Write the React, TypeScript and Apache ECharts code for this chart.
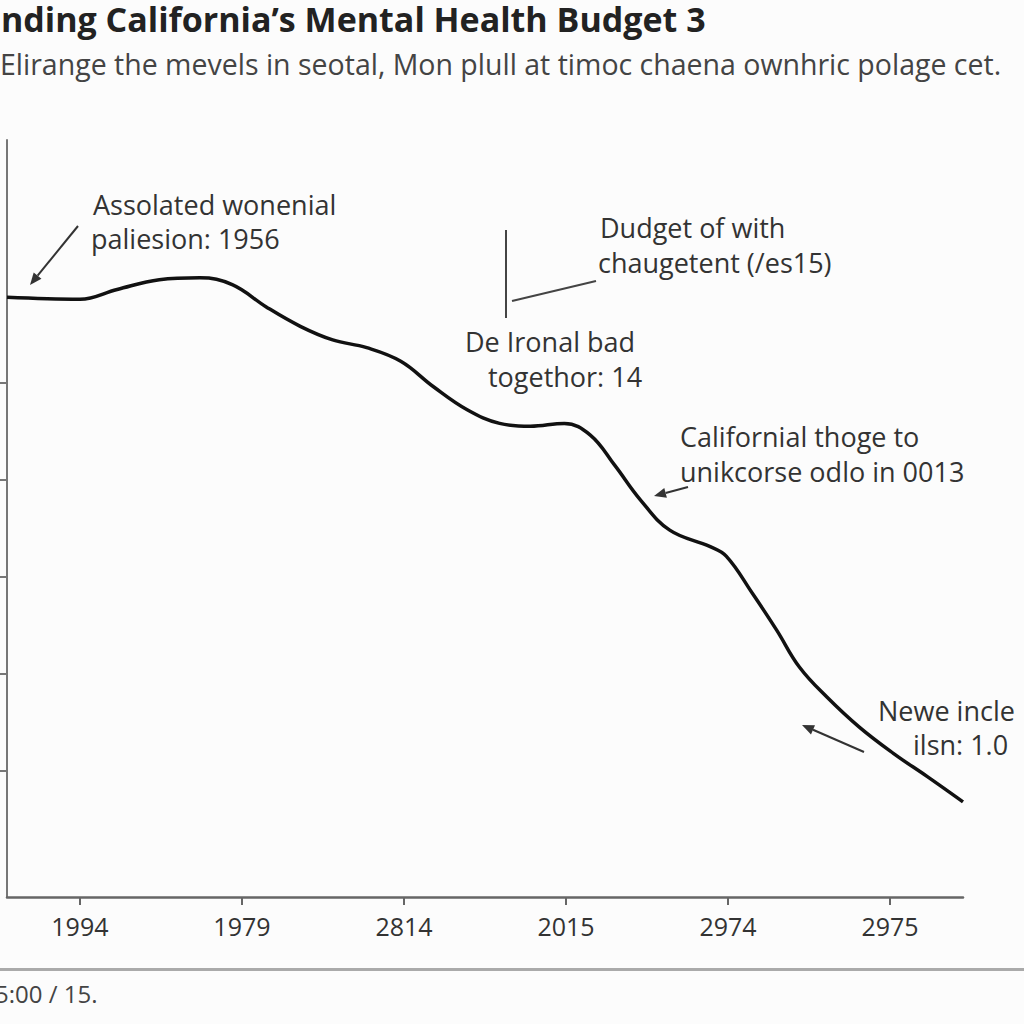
import React, { useEffect, useRef } from "react";
import * as echarts from "echarts";

// ---- data ----
const xTickLabels = ["1994", "1979", "2814", "2015", "2974", "2975"];
const xTickValues = [0, 1, 2, 3, 4, 5];
const yTickValues = [10, 20, 30, 40, 50];
const xPos = [
  -0.45, 0, 0.23, 0.49, 0.74, 0.94, 1.15, 1.36, 1.56, 1.77, 1.98, 2.18, 2.39, 2.59, 2.78,
  2.99, 3.15, 3.3, 3.46, 3.64, 3.89, 3.99, 4.15, 4.3, 4.44, 4.61, 4.81, 5.02, 5.23, 5.45,
];
const budget = [
  58.8, 58.6, 59.6, 60.6, 60.8, 60.1, 57.8, 55.8, 54.4, 53.6, 52.2, 49.6, 47.2, 45.8, 45.5,
  45.8, 44.6, 41.5, 37.9, 34.8, 33.1, 32.1, 28.3, 24.5, 20.7, 17.6, 14.5, 11.8, 9.4, 6.8,
];
const titleText = "nding California\u2019s Mental Health Budget 3";
const subtitleText =
  "Elirange the mevels in seotal, Mon plull at timoc chaena ownhric polage cet.";
const footerText = "5:00 / 15.";

const FONT = "'Open Sans', 'Noto Sans', sans-serif";

function arrow(x1: number, y1: number, x2: number, y2: number, color = "#333") {
  const ang = Math.atan2(y2 - y1, x2 - x1);
  const len = 12;
  const wid = 5;
  const bx = x2 - Math.cos(ang) * len;
  const by = y2 - Math.sin(ang) * len;
  const px = -Math.sin(ang) * wid;
  const py = Math.cos(ang) * wid;
  return [
    {
      type: "line",
      shape: { x1, y1, x2: bx, y2: by },
      style: { stroke: color, lineWidth: 2 },
    },
    {
      type: "polygon",
      shape: {
        points: [
          [x2, y2],
          [bx + px, by + py],
          [bx - px, by - py],
        ],
      },
      style: { fill: color },
    },
  ];
}

function txt(x: number, y: number, text: string, align = "left", size = 27, color = "#333", weight = "normal") {
  return {
    type: "text",
    x,
    y,
    style: {
      text,
      fill: color,
      font: `${weight} ${size}px ${FONT}`,
      textAlign: align,
      textVerticalAlign: "middle",
    },
  };
}

export default function App() {
  const ref = useRef<HTMLDivElement>(null);
  useEffect(() => {
    if (!ref.current) return;
    const chart = echarts.init(ref.current, undefined, { renderer: "svg" });
    const option: any = {
      animation: false,
      backgroundColor: "#fcfcfc",
      grid: { left: 7, top: 140, width: 956, height: 757, containLabel: false },
      xAxis: {
        type: "value",
        min: -0.45,
        max: 5.45,
        axisLine: { show: true, onZero: false, lineStyle: { color: "#666", width: 2.5 } },
        axisTick: {
          show: true,
          customValues: xTickValues,
          length: 8,
          lineStyle: { color: "#666", width: 2 },
        },
        axisLabel: {
          customValues: xTickValues,
          formatter: (v: number) => xTickLabels[Math.round(v)] ?? "",
          color: "#333",
          fontSize: 25,
          fontFamily: FONT,
          margin: 16,
        },
        splitLine: { show: false },
      },
      yAxis: {
        type: "value",
        min: -3,
        max: 75,
        axisLine: { show: true, onZero: false, lineStyle: { color: "#777", width: 2 } },
        axisTick: {
          show: true,
          customValues: yTickValues,
          length: 8,
          lineStyle: { color: "#777", width: 2 },
        },
        axisLabel: { show: false },
        splitLine: { show: false },
      },
      series: [
        {
          type: "line",
          data: xPos.map((x, i) => [x, budget[i]]),
          smooth: 0.4,
          showSymbol: false,
          lineStyle: { color: "#111", width: 3.5 },
        },
      ],
      graphic: [
        txt(1, 19, titleText, "left", 34, "#222", "bold"),
        txt(0, 64, subtitleText, "left", 28.5, "#444"),
        txt(93, 204, "Assolated wonenial"),
        txt(91, 238, "paliesion: 1956"),
        ...arrow(78, 226, 30, 285),
        txt(600, 227, "Dudget of with"),
        txt(598, 262, "chaugetent (/es15)"),
        {
          type: "line",
          shape: { x1: 506, y1: 230, x2: 506, y2: 318 },
          style: { stroke: "#444", lineWidth: 2 },
        },
        {
          type: "line",
          shape: { x1: 512, y1: 301, x2: 596, y2: 281 },
          style: { stroke: "#444", lineWidth: 2 },
        },
        txt(550, 341, "De Ironal bad", "center"),
        txt(565, 376, "togethor: 14", "center"),
        txt(680, 436, "Californial thoge to"),
        txt(680, 471, "unikcorse odlo in 0013"),
        ...arrow(688, 487, 654, 496),
        txt(878, 710, "Newe incle"),
        txt(913, 744, "ilsn: 1.0"),
        ...arrow(864, 752, 802, 725),
        {
          type: "rect",
          shape: { x: 0, y: 968, width: 1024, height: 3 },
          style: { fill: "#aaa" },
        },
        txt(-5, 993, footerText, "left", 24, "#444"),
      ],
    };
    chart.setOption(option);
    return () => chart.dispose();
  }, []);
  return (
    <div
      ref={ref}
      style={{ position: "fixed", left: 0, top: 0, width: 1024, height: 1024 }}
    />
  );
}
